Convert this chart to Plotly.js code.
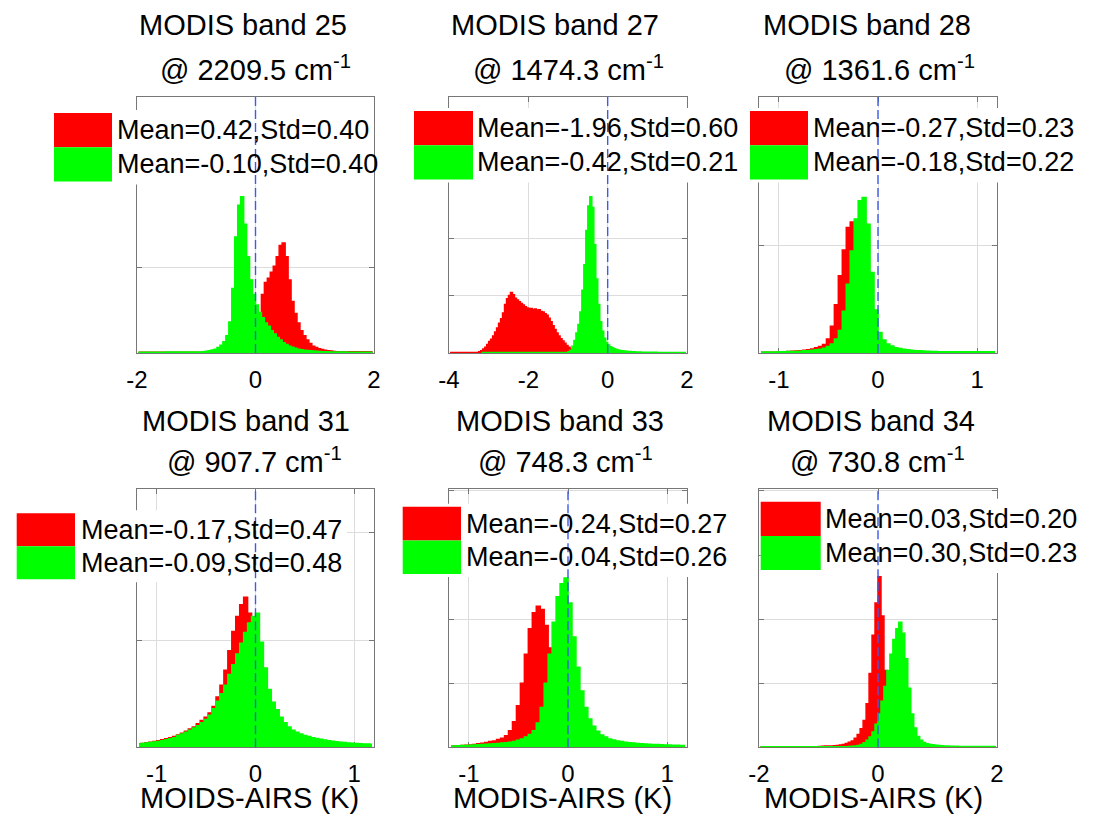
<!DOCTYPE html>
<html>
<head>
<meta charset="utf-8">
<script src="https://cdn.plot.ly/plotly-3.0.1.min.js"></script>
<style>html,body{margin:0;padding:0;background:#fff;}#chart{width:1093px;height:827px;}</style>
</head>
<body>
<div id="chart"></div>
<script>
// ---------------- DATA ----------------
const bands = [25, 27, 28, 31, 33, 34];
const wavenumbers = ['2209.5', '1474.3', '1361.6', '907.7', '748.3', '730.8'];
const redMean = [0.42, -1.96, -0.27, -0.17, -0.24, 0.03];
const redStd = [0.40, 0.60, 0.23, 0.47, 0.27, 0.20];
const greenMean = [-0.10, -0.42, -0.18, -0.09, -0.04, 0.30];
const greenStd = [0.40, 0.21, 0.22, 0.48, 0.26, 0.23];
const xTitles = ['MOIDS-AIRS (K)', 'MODIS-AIRS (K)', 'MODIS-AIRS (K)'];
const tickValues = [[-2, 0, 2], [-4, -2, 0, 2], [-1, 0, 1], [-1, 0, 1], [-1, 0, 1], [-2, 0, 2]];
const xRanges = [[-2, 2], [-4, 2], [-1.2, 1.2], [-1.2, 1.2], [-1.2, 1.2], [-2, 2]];

// histogram bins: first bin centre and bin width
const p1Red0 = -1.975, p1Green0 = -1.975, p1Width = 0.05;
const p1Red = [0.008,0.008,0.008,0.008,0.008,0.008,0.008,0.008,0.008,0.008,
  0.008,0.008,0.008,0.008,0.008,0.008,0.008,0.008,0.008,0.008,
  0.008,0.008,0.008,0.008,0.008,0.008,0.008,0.008,0.008,0.008,
  0.01,0.012,0.015,0.02,0.03,0.04,0.06,0.09,0.14,0.22,
  0.32,0.45,0.68,0.82,0.87,0.94,1.01,1.12,1.25,1.28,
  1.12,0.85,0.6,0.46,0.35,0.26,0.2,0.15,0.11,0.08,
  0.065,0.05,0.04,0.033,0.027,0.022,0.018,0.016,0.015,0.015,
  0.015,0.015,0.015,0.015,0.015,0.015,0.015,0.015,0.015,0.015];
const p1Green = [0.01,0.01,0.01,0.01,0.01,0.01,0.01,0.01,0.01,0.01,
  0.011,0.011,0.011,0.011,0.011,0.012,0.012,0.012,0.012,0.012,
  0.012,0.013,0.015,0.02,0.025,0.035,0.045,0.065,0.09,0.13,
  0.2,0.36,0.75,1.35,1.72,1.82,1.5,1.12,0.85,0.68,
  0.56,0.47,0.41,0.35,0.31,0.26,0.22,0.18,0.15,0.12,
  0.1,0.08,0.066,0.054,0.045,0.038,0.032,0.028,0.025,0.022,
  0.02,0.018,0.016,0.015,0.014,0.013,0.012,0.012,0.011,0.011,
  0.011,0.01,0.01,0.01,0.01,0.01,0.01,0.01,0.01,0.01];

const p2Red0 = -3.975, p2Green0 = -3.175, p2Width = 0.05;
const p2Red = [0.01,0.01,0.01,0.01,0.01,0.01,0.01,0.01,0.01,0.01,0.01,0.01,0.01,0.01,0.01,
  0.02,0.04,0.07,0.1,0.15,0.2,0.24,0.3,0.37,0.44,
  0.52,0.6,0.7,0.85,0.95,1.01,1.06,1.02,0.96,0.93,
  0.9,0.87,0.84,0.81,0.79,0.78,0.78,0.76,0.77,0.75,
  0.76,0.73,0.72,0.69,0.66,0.61,0.55,0.48,0.41,0.35,
  0.3,0.25,0.21,0.17,0.13,0.1,0.075,0.055,0.04,0.03,
  0.02,0.015,0.012,0.01];
const p2Green = [0.008,0.008,0.008,0.008,0.008,0.008,0.008,0.008,0.008,0.008,0.008,
  0.008,0.008,0.008,0.008,0.008,0.008,0.008,0.008,0.008,0.008,0.008,
  0.008,0.008,0.008,0.008,0.008,0.008,0.008,0.008,0.008,0.008,0.008,
  0.008,0.008,0.008,0.008,0.008,0.008,0.008,0.008,0.008,0.008,0.008,
  0.02,0.05,0.12,0.22,0.35,0.5,0.72,1.1,1.55,2.15,
  2.58,2.74,2.55,1.9,1.3,0.85,0.55,0.38,0.26,0.18,
  0.14,0.11,0.09,0.075,0.062,0.052,0.046,0.04,0.035,0.03,
  0.028,0.025,0.022,0.02,0.018,0.017,0.016,0.015,0.014,0.013,
  0.012,0.011,0.011,0.011,0.011,0.01,0.01,0.01,0.01,0.01,
  0.01,0.01,0.01,0.01,0.01,0.01,0.01,0.01,0.01,0.01];

const p3Red0 = -1.18, p3Green0 = -1.18, p3Width = 0.04;
const p3Red = [0.008,0.008,0.008,0.008,0.008,0.008,
  0.012,0.014,0.016,0.018,0.02,0.025,0.03,0.038,0.048,0.06,
  0.08,0.13,0.25,0.45,0.72,0.96,1.17,1.22,1.05,0.8,
  0.55,0.33,0.18,0.09,0.05,0.03,0.02,0.015,
  0.008,0.008,0.008,0.008,0.008,0.008,0.008,0.008,0.008,0.008,0.008,0.008,0.008,
  0.008,0.008,0.008,0.008,0.008,0.008,0.008,0.008,0.008,0.008,0.008,0.008,0.008];
const p3Green = [0.01,0.01,0.01,0.01,0.01,
  0.012,0.012,0.013,0.014,0.015,
  0.017,0.02,0.022,0.025,0.03,
  0.035,0.045,0.06,0.085,0.13,
  0.21,0.39,0.64,0.95,1.25,
  1.42,1.45,1.2,0.75,0.4,
  0.19,0.12,0.085,0.065,0.05,
  0.042,0.035,0.03,0.026,0.022,
  0.02,0.018,0.016,0.014,0.013,
  0.012,0.011,0.011,0.011,0.011,0.011,0.011,0.011,0.011,0.011,0.011,0.011,0.011,0.011,0.011];

const p4Red0 = -1.18, p4Green0 = -1.18, p4Width = 0.04;
const p4Red = [0.03,0.035,0.042,0.048,0.055,0.062,0.07,0.08,0.09,0.1,
  0.115,0.13,0.15,0.17,0.19,0.22,0.25,0.28,0.32,0.38,
  0.47,0.58,0.72,0.9,1.08,1.22,1.33,1.4,1.25,1.0,
  0.75,0.55,0.42,0.33,0.27,0.22,0.18,0.15,0.13,0.11,
  0.095,0.085,0.075,0.068,0.062,0.056,0.05,0.046,0.042,0.038,
  0.035,0.032,0.03,0.028,0.026,0.024,0.022,0.021,0.02,0.019];
const p4Green = [0.03,0.035,0.04,0.045,0.05,0.055,0.06,0.07,0.08,0.09,
  0.11,0.125,0.14,0.16,0.18,0.2,0.23,0.26,0.3,0.36,
  0.43,0.5,0.58,0.68,0.77,0.87,0.97,1.07,1.16,1.22,
  1.25,0.98,0.74,0.54,0.42,0.35,0.28,0.23,0.19,0.16,
  0.14,0.125,0.11,0.1,0.09,0.082,0.075,0.068,0.062,0.056,
  0.052,0.048,0.044,0.041,0.038,0.035,0.033,0.031,0.03,0.028];

const p5Red0 = -1.18, p5Green0 = -1.18, p5Width = 0.04;
const p5Red = [0.02,0.022,0.025,0.028,0.032,0.036,0.045,0.055,0.065,0.075,
  0.09,0.1,0.12,0.14,0.18,0.26,0.4,0.65,1.0,1.45,
  1.85,2.1,2.2,2.15,1.9,1.55,1.2,0.85,0.55,0.35,
  0.22,0.15,0.1,0.075,0.06,0.05,0.042,0.036,0.032,0.028,
  0.025,0.023,0.021,0.02,0.018,0.018,0.018,0.018,0.018,0.018,
  0.018,0.018,0.018,0.018,0.018,0.018,0.018,0.018,0.018,0.018];
const p5Green = [0.02,0.022,0.025,0.028,0.03,0.033,0.036,0.04,0.044,0.048,
  0.052,0.056,0.06,0.066,0.072,0.08,0.09,0.11,0.13,0.16,
  0.2,0.26,0.38,0.62,1.0,1.45,1.95,2.35,2.55,2.64,
  2.25,1.72,1.25,0.88,0.62,0.44,0.33,0.25,0.19,0.16,
  0.13,0.115,0.1,0.09,0.08,0.072,0.066,0.06,0.056,0.052,
  0.048,0.045,0.042,0.04,0.037,0.035,0.033,0.031,0.03,0.028];

const p6Red0 = -1.975, p6Green0 = -1.975, p6Width = 0.05;
const p6Red = [0.008,0.008,0.008,0.008,0.008,0.008,0.008,0.008,0.008,0.008,
  0.008,0.008,0.008,0.008,0.008,0.008,0.008,0.008,0.008,0.008,
  0.012,0.015,0.02,0.02,0.022,0.025,0.03,0.035,0.045,0.06,
  0.08,0.1,0.14,0.2,0.29,0.42,0.68,1.15,1.75,2.25,
  2.66,2.05,1.2,0.75,0.45,0.28,0.18,0.12,0.08,0.055,
  0.04,0.03,0.025,0.02,0.016,0.013,0.011,0.008,0.008,0.008,
  0.008,0.008,0.008,0.008,0.008,0.008,0.008,0.008,0.008,0.008,
  0.008,0.008,0.008,0.008,0.008,0.008,0.008,0.008,0.008,0.008];
const p6Green = [0.01,0.01,0.01,0.01,0.01,0.01,0.01,0.01,0.01,0.01,
  0.01,0.01,0.01,0.01,0.01,0.01,0.01,0.01,0.01,0.01,
  0.01,0.01,0.01,0.01,0.01,0.01,0.01,0.01,0.01,0.01,
  0.012,0.015,0.02,0.03,0.045,0.07,0.11,0.16,0.24,0.36,
  0.52,0.72,0.95,1.2,1.45,1.68,1.85,1.95,1.78,1.38,
  0.92,0.52,0.3,0.17,0.11,0.075,0.055,0.045,0.038,0.032,
  0.028,0.025,0.022,0.02,0.018,0.016,0.015,0.014,0.013,0.012,
  0.011,0.011,0.011,0.011,0.011,0.011,0.011,0.011,0.011,0.011];

const redSeries = [p1Red, p2Red, p3Red, p4Red, p5Red, p6Red];
const greenSeries = [p1Green, p2Green, p3Green, p4Green, p5Green, p6Green];
const redStart = [p1Red0, p2Red0, p3Red0, p4Red0, p5Red0, p6Red0];
const greenStart = [p1Green0, p2Green0, p3Green0, p4Green0, p5Green0, p6Green0];
const binWidth = [p1Width, p2Width, p3Width, p4Width, p5Width, p6Width];

// ---------------- LAYOUT GEOMETRY ----------------
const W = 1093, H = 827;
const fx = p => p / W;
const fy = p => 1 - p / H;
const boxes = [[137,374,97,353],[449,687,97,353],[759,997,97,353],
               [137,374,489,747.3],[449,687,489,747.3],[759,997,489,747.3]];
const yMax = [2.98, 4.49, 2.386, 2.41, 4.03, 4.03];
const legendPos = [
  {sx:54, sy:113, sw:58, sh:34.3, tx:118, tr:374},
  {sx:414, sy:111, sw:59, sh:34.2, tx:477.7, tr:740},
  {sx:750, sy:111, sw:58, sh:34.2, tx:814, tr:1079},
  {sx:16.7, sy:513.3, sw:58.3, sh:33, tx:81.7, tr:347},
  {sx:402.7, sy:506.7, sw:58.3, sh:33.7, tx:467.3, tr:732},
  {sx:760.7, sy:501.7, sw:60, sh:34.2, tx:826, tr:1082}];
const title1X = [243, 555, 866.7, 246, 560, 870.5];
const title2X = [255.5, 568, 879, 254.7, 565.8, 877];
const title1Base = [36, 36, 36, 432, 432, 432];
const title2Base = [81, 81, 81, 473, 473, 473];
const xTitleX = [249.7, 562.5, 873.3];
const xTitleBase = 809;

const FONT = 'Liberation Sans, Arial, Helvetica, sans-serif';
const RED = '#ff0000', GREEN = '#00ff00';

const data = [];
const layout = {
  width: W, height: H,
  margin: {l:0, r:0, t:0, b:0},
  paper_bgcolor: '#ffffff', plot_bgcolor: '#ffffff',
  showlegend: false, hovermode: false,
  font: {family: FONT, color: '#000'},
  shapes: [], annotations: []
};
const dashShapes = [];

for (let i = 0; i < 6; i++) {
  const s = i === 0 ? '' : String(i + 1);
  const xa = 'x' + s, ya = 'y' + s;
  const b = boxes[i];
  ['red', 'green'].forEach(c => {
    const ys = c === 'red' ? redSeries[i] : greenSeries[i];
    const col = c === 'red' ? RED : GREEN;
    data.push({
      type: 'scatter', mode: 'lines', xaxis: xa, yaxis: ya,
      x0: c === 'red' ? redStart[i] : greenStart[i], dx: binWidth[i], y: ys,
      line: {shape: 'hvh', color: col, width: 1.5},
      fill: 'tozeroy', fillcolor: col, hoverinfo: 'skip'
    });
  });
  layout['xaxis' + s] = {
    domain: [fx(b[0]), fx(b[1])], anchor: ya, range: xRanges[i],
    tickvals: tickValues[i], ticktext: tickValues[i].map(v => String(v)),
    ticks: 'inside', ticklen: 5, tickcolor: '#777', tickwidth: 1,
    showline: true, linecolor: '#777', linewidth: 1, mirror: 'ticks',
    showgrid: true, gridcolor: '#dcdcdc', gridwidth: 1, zeroline: false,
    tickfont: {size: 24, family: FONT, color: '#000'},
    ticklabelstandoff: 5, layer: 'below traces', fixedrange: true
  };
  layout['yaxis' + s] = {
    domain: [fy(b[3]), fy(b[2])], anchor: xa, range: [0, yMax[i]],
    dtick: 1, tick0: 0, showticklabels: false,
    ticks: 'inside', ticklen: 5, tickcolor: '#777', tickwidth: 1,
    showline: true, linecolor: '#777', linewidth: 1, mirror: 'ticks',
    showgrid: true, gridcolor: '#dcdcdc', gridwidth: 1, zeroline: false,
    layer: 'below traces', fixedrange: true
  };
  dashShapes.push({
    type: 'line', xref: xa, yref: ya + ' domain', x0: 0, x1: 0, y0: 0, y1: 1,
    line: {color: 'rgb(60,90,235)', width: 1.4, dash: '9px,4px'}, layer: 'above'
  });

  // legend box
  const L = legendPos[i];
  layout.shapes.push({type:'rect', xref:'paper', yref:'paper', layer:'above',
    x0: fx(L.sx), x1: fx(L.tr), y0: fy(L.sy - 3), y1: fy(L.sy + 2 * L.sh + 3),
    fillcolor:'#ffffff', line:{width:0}});
  layout.shapes.push({type:'rect', xref:'paper', yref:'paper', layer:'above',
    x0: fx(L.sx), x1: fx(L.sx + L.sw), y0: fy(L.sy), y1: fy(L.sy + L.sh),
    fillcolor: RED, line:{width:0}});
  layout.shapes.push({type:'rect', xref:'paper', yref:'paper', layer:'above',
    x0: fx(L.sx), x1: fx(L.sx + L.sw), y0: fy(L.sy + L.sh), y1: fy(L.sy + 2 * L.sh),
    fillcolor: GREEN, line:{width:0}});
  const rows = [
    'Mean=' + redMean[i].toFixed(2) + ',Std=' + redStd[i].toFixed(2),
    'Mean=' + greenMean[i].toFixed(2) + ',Std=' + greenStd[i].toFixed(2)];
  rows.forEach((t, k) => {
    layout.annotations.push({xref:'paper', yref:'paper', x: fx(L.tx - 3), y: fy(L.sy + L.sh * (k + 0.5)),
      xanchor:'left', yanchor:'middle', showarrow:false, text: t,
      font:{size:27, family: FONT, color:'#000'}});
  });

  // titles
  layout.annotations.push({xref:'paper', yref:'paper', x: fx(title1X[i]), y: fy(title1Base[i] + 7),
    xanchor:'center', yanchor:'bottom', showarrow:false, text: 'MODIS band ' + bands[i],
    font:{size:29, family: FONT, color:'#000'}});
  layout.annotations.push({xref:'paper', yref:'paper', x: fx(title2X[i]), y: fy(title2Base[i] + 7),
    xanchor:'center', yanchor:'bottom', showarrow:false, text: '@ ' + wavenumbers[i] + ' cm<sup>-1</sup>',
    font:{size:29, family: FONT, color:'#000'}});
}
for (let j = 0; j < 3; j++) {
  layout.annotations.push({xref:'paper', yref:'paper', x: fx(xTitleX[j]), y: fy(xTitleBase + 7),
    xanchor:'center', yanchor:'bottom', showarrow:false, text: xTitles[j],
    font:{size:29, family: FONT, color:'#000'}});
}
layout.shapes = layout.shapes.concat(dashShapes);

Plotly.newPlot('chart', data, layout, {displayModeBar:false, staticPlot:true});
</script>
</body>
</html>
